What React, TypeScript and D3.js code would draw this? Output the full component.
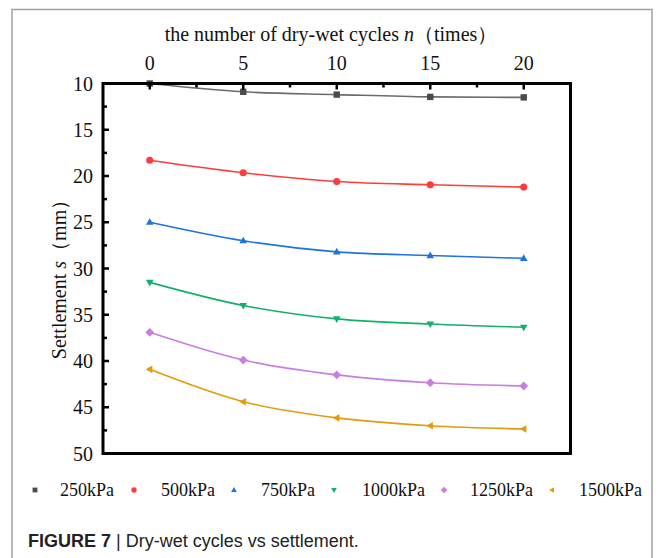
import React from "react";
import * as d3 from "d3";

const cycles = [0, 5, 10, 15, 20];
const seriesNames = ["250kPa", "500kPa", "750kPa", "1000kPa", "1250kPa", "1500kPa"];
const s250 = [10.0, 10.9, 11.2, 11.45, 11.5];
const s500 = [18.3, 19.65, 20.6, 20.95, 21.2];
const s750 = [25.0, 27.0, 28.2, 28.6, 28.9];
const s1000 = [31.5, 34.0, 35.45, 36.0, 36.35];
const s1250 = [36.9, 39.9, 41.5, 42.35, 42.7];
const s1500 = [40.9, 44.4, 46.15, 47.0, 47.35];
const seriesValues = [s250, s500, s750, s1000, s1250, s1500];
const lineColors = ["#6b6b6b", "#ff3c3c", "#1f72e0", "#12b06c", "#c97de3", "#e39a0c"];
const markerColors = ["#4a4a4a", "#ff3c3c", "#1f72e0", "#12b06c", "#c97de3", "#e39a0c"];
const markerShapes = ["square", "circle", "triUp", "triDown", "diamond", "triLeft"];
const xTicks = [0, 5, 10, 15, 20];
const yTicks = [10, 15, 20, 25, 30, 35, 40, 45, 50];

const W = 664, H = 558;
const left = 103, right = 570.5, top = 83.5, bottom = 453.5;

function markerPath(shape: string, r: number): string {
  if (shape === "triUp") return `M0,${-r}L${r * 0.95},${r * 0.65}L${-r * 0.95},${r * 0.65}Z`;
  if (shape === "triDown") return `M0,${r}L${r * 0.95},${-r * 0.65}L${-r * 0.95},${-r * 0.65}Z`;
  if (shape === "triLeft") return `M${-r},0L${r * 0.65},${-r * 0.95}L${r * 0.65},${r * 0.95}Z`;
  if (shape === "diamond") {
    const d = r * 1.1;
    return `M0,${-d}L${d},0L0,${d}L${-d},0Z`;
  }
  if (shape === "square") {
    const s = r * 0.8;
    return `M${-s},${-s}H${s}V${s}H${-s}Z`;
  }
  return d3.symbol().type(d3.symbolCircle).size(Math.PI * r * r * 0.8)() || "";
}

export default function App() {
  const x = d3.scaleLinear().domain([-2.5, 22.5]).range([left, right]);
  const y = d3.scaleLinear().domain([10, 50]).range([top, bottom]);
  const line = d3
    .line<number>()
    .x((_, i) => x(cycles[i]))
    .y((v) => y(v))
    .curve(d3.curveMonotoneX);

  const xMinor = d3.range(-2.5, 22.6, 2.5).filter((v) => !xTicks.includes(v) && v > -2.5 && v < 22.5);
  const yMinor = d3.range(12.5, 50, 5);
  const serif = "'Liberation Serif', 'Times New Roman', serif";
  const legendMarkerX = [35, 134, 234, 334, 444, 552];
  const legendTextX = [60, 161, 261, 362, 470, 579];

  return (
    <svg width={W} height={H} style={{ position: "absolute", left: 0, top: 0, background: "#fff" }}>
      <rect x={12} y={9.5} width={640} height={560} fill="none" stroke="#a0a0a0" strokeWidth={1.5} />
      {/* top title */}
      <text x={331} y={41} textAnchor="middle" fontFamily={serif} fontSize={20} fill="#111">
        the number of dry-wet cycles <tspan fontStyle="italic">n</tspan>（times）
      </text>
      {/* series lines */}
      {seriesValues.map((vals, si) => (
        <path key={"l" + si} d={line(vals) || ""} fill="none" stroke={lineColors[si]} strokeWidth={1.6} />
      ))}
      {seriesValues.map((vals, si) =>
        vals.map((v, i) => (
          <path
            key={"m" + si + "-" + i}
            d={markerPath(markerShapes[si], 4)}
            transform={`translate(${x(cycles[i])},${y(v)})`}
            fill={markerColors[si]}
          />
        ))
      )}
      {/* frame */}
      <rect x={left} y={top} width={right - left} height={bottom - top} fill="none" stroke="#000" strokeWidth={3} />
      {/* top ticks */}
      {xTicks.map((t) => (
        <g key={"xt" + t}>
          <line x1={x(t)} x2={x(t)} y1={top} y2={top + 6} stroke="#000" strokeWidth={2.5} />
          <text x={x(t)} y={70} textAnchor="middle" fontFamily={serif} fontSize={20} fill="#111">
            {t}
          </text>
        </g>
      ))}
      {xMinor.map((t) => (
        <line key={"xm" + t} x1={x(t)} x2={x(t)} y1={top} y2={top + 4} stroke="#000" strokeWidth={2.5} />
      ))}
      {/* left ticks */}
      {yTicks.map((t) => (
        <g key={"yt" + t}>
          {t > 10 && t < 50 && <line x1={left} x2={left + 6} y1={y(t)} y2={y(t)} stroke="#000" strokeWidth={2.5} />}
          <text x={93} y={y(t) + 7} textAnchor="end" fontFamily={serif} fontSize={20} fill="#111">
            {t}
          </text>
        </g>
      ))}
      {yMinor.map((t) => (
        <line key={"ym" + t} x1={left} x2={left + 4} y1={y(t)} y2={y(t)} stroke="#000" strokeWidth={2.5} />
      ))}
      {/* y title */}
      <text
        transform={`translate(66,${(top + bottom) / 2 + 6}) rotate(-90)`}
        textAnchor="middle"
        fontFamily={serif}
        fontSize={20}
        fill="#111"
      >
        Settlement <tspan fontStyle="italic">s</tspan>（mm）
      </text>
      {/* legend */}
      {seriesNames.map((name, si) => (
        <g key={"lg" + si}>
          <path d={markerPath(markerShapes[si], 3)} transform={`translate(${legendMarkerX[si]},490)`} fill={markerColors[si]} />
          <text x={legendTextX[si]} y={496} fontFamily={serif} fontSize={18} fill="#111">
            {name}
          </text>
        </g>
      ))}
      {/* caption */}
      <text x={28} y={547} fontFamily="'Liberation Sans', Arial, sans-serif" fontSize={18} fill="#222">
        <tspan fontWeight="bold">FIGURE 7</tspan> | Dry-wet cycles vs settlement.
      </text>
    </svg>
  );
}
